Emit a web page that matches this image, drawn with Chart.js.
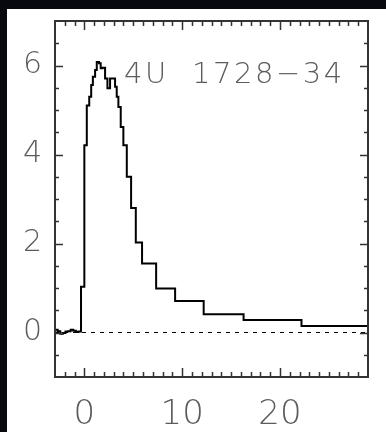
<!DOCTYPE html>
<html>
<head>
<meta charset="utf-8">
<script src="https://cdn.jsdelivr.net/npm/chart.js@4/dist/chart.umd.min.js"></script>
<style>
  html, body { margin: 0; padding: 0; }
  body { width: 386px; height: 432px; background: #07090e; position: relative; overflow: hidden; }
  #panel { position: absolute; left: 7px; top: 9px; width: 379px; height: 423px; background: #ffffff; }
  #panel canvas { display: block; }
</style>
</head>
<body>
<div id="panel"><canvas id="burst" width="379" height="423"></canvas></div>
<script>
// bin left edges (s) plus the final right edge, and the rate in each bin
const binEdges = [
  -3.0, -2.73, -2.46, -2.2, -1.93, -1.66, -1.4, -1.13, -0.87, -0.6, -0.34,
  0.0, 0.25, 0.5, 0.7, 0.87, 1.1, 1.27, 1.5, 1.67, 1.85, 2.12, 2.36, 2.63,
  3.14, 3.31, 3.48, 3.72, 3.99, 4.34, 4.78, 5.26, 5.9, 7.34, 9.28, 12.2,
  16.28, 22.2, 29.0
];
const binRates = [
  0.06, 0.03, -0.03, -0.01, 0.02, 0.03, 0.06, 0.04, 0.01, 0.02,
  1.03, 4.21, 5.1, 5.3, 5.56, 5.75, 5.9, 6.08, 6.05, 5.94, 5.95, 5.71,
  5.49, 5.71, 5.52, 5.3, 5.07, 4.62, 4.21, 3.5, 2.8, 2.02, 1.55, 0.99,
  0.71, 0.41, 0.28, 0.146
];
const xRange = [-3, 29];
const yRange = [-1, 7];
const xTickLabels = [0, 10, 20];
const yTickLabels = [0, 2, 4, 6];
const sourceName = "4U  1728\u221234";

// step points: each bin starts at its left edge, the last point closes the final bin
const stepPoints = binRates.map((v, i) => ({ x: binEdges[i], y: v }));
stepPoints.push({ x: binEdges[binEdges.length - 1], y: binRates[binRates.length - 1] });

// Chart.js reserves room for half a label at the ends; the frame here sits at fixed padding
function noEdgePadding(s) {
  s.paddingTop = 0; s.paddingBottom = 0; s.paddingLeft = 0; s.paddingRight = 0;
}

// frame, inward ticks on all four sides, and the source label
const framePlugin = {
  id: "frame",
  afterDatasetsDraw(chart) {
    const { ctx, chartArea: a, scales } = chart;
    const xs = scales.x, ys = scales.y;
    ctx.save();
    ctx.strokeStyle = "#333333";
    ctx.lineWidth = 1.5;
    ctx.beginPath();
    for (let v = xRange[0] + 1; v < xRange[1]; v += 1) {
      const px = Math.round(xs.getPixelForValue(v)) + 0.5;
      const len = v % 10 === 0 ? 9 : 5;
      ctx.moveTo(px, a.bottom); ctx.lineTo(px, a.bottom - len);
      ctx.moveTo(px, a.top); ctx.lineTo(px, a.top + len);
    }
    for (let v = yRange[0] + 0.5; v < yRange[1]; v += 0.5) {
      const py = Math.round(ys.getPixelForValue(v)) + 0.5;
      const len = v % 2 === 0 ? 8 : 4;
      ctx.moveTo(a.left, py); ctx.lineTo(a.left + len, py);
      ctx.moveTo(a.right, py); ctx.lineTo(a.right - len, py);
    }
    ctx.stroke();
    ctx.lineWidth = 2;
    ctx.strokeRect(a.left, a.top, a.right - a.left, a.bottom - a.top);
    ctx.fillStyle = "#5c5c5c";
    ctx.font = "200 29px 'DejaVu Sans'";
    ctx.letterSpacing = "2.5px";
    ctx.textAlign = "left";
    ctx.textBaseline = "alphabetic";
    ctx.fillText(sourceName, a.left + 69, a.top + 62);
    ctx.restore();
  }
};

new Chart(document.getElementById("burst"), {
  type: "line",
  data: {
    datasets: [
      {
        data: stepPoints,
        stepped: true,
        borderColor: "#000000",
        borderWidth: 2,
        pointRadius: 0,
        fill: false
      },
      {
        data: [{ x: xRange[0], y: 0 }, { x: xRange[1], y: 0 }],
        borderColor: "#000000",
        borderWidth: 1,
        borderDash: [4, 5],
        pointRadius: 0,
        fill: false
      }
    ]
  },
  options: {
    responsive: false,
    animation: false,
    layout: { padding: { top: 12, right: 18, left: 0, bottom: 0 } },
    plugins: { legend: { display: false }, tooltip: { enabled: false } },
    scales: {
      x: {
        type: "linear",
        min: xRange[0],
        max: xRange[1],
        grid: { display: false },
        border: { display: false },
        afterBuildTicks: (s) => { s.ticks = xTickLabels.map((v) => ({ value: v })); },
        afterFit: (s) => { s.height = 55; noEdgePadding(s); },
        ticks: {
          autoSkip: false,
          maxRotation: 0,
          padding: 10,
          color: "#5c5c5c",
          font: { family: "DejaVu Sans", size: 34, weight: "200" }
        }
      },
      y: {
        type: "linear",
        min: yRange[0],
        max: yRange[1],
        grid: { display: false },
        border: { display: false },
        afterBuildTicks: (s) => { s.ticks = yTickLabels.map((v) => ({ value: v })); },
        afterFit: (s) => { s.width = 48; noEdgePadding(s); },
        ticks: {
          autoSkip: false,
          padding: 5,
          color: "#5c5c5c",
          font: { family: "DejaVu Sans", size: 30, weight: "200" }
        }
      }
    }
  },
  plugins: [framePlugin]
});
</script>
</body>
</html>
